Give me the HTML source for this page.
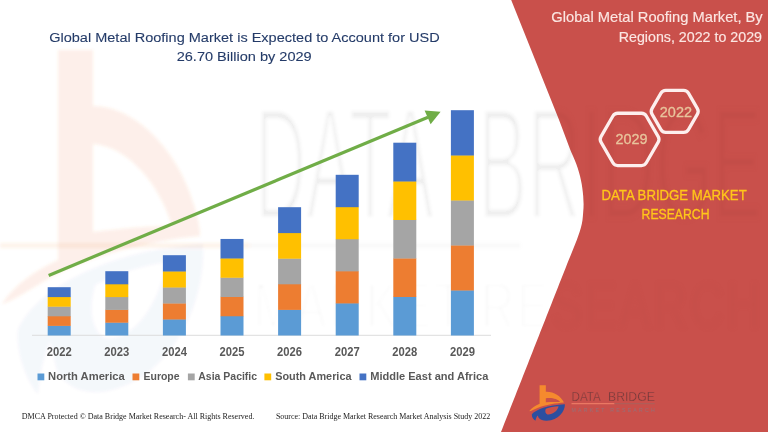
<!DOCTYPE html>
<html><head><meta charset="utf-8">
<style>
html,body{margin:0;padding:0;background:#fff;}
body{width:768px;height:432px;overflow:hidden;font-family:"Liberation Sans",sans-serif;}
svg{display:block}
text{font-family:"Liberation Sans",sans-serif;}
.serif{font-family:"Liberation Serif",serif;}
</style></head><body>
<svg width="768" height="432" viewBox="0 0 768 432">
<defs>
<filter id="blur1"><feGaussianBlur stdDeviation="1.6"/></filter>
</defs>
<rect width="768" height="432" fill="#ffffff"/>

<!-- faint watermarks -->
<g id="wm" filter="url(#blur1)">
<g opacity="0.065">
<text x="255" y="219" font-size="160" fill="#000" stroke="#fff" stroke-width="4" textLength="179" lengthAdjust="spacingAndGlyphs">DATA</text>
<text x="478" y="219" font-size="160" fill="#000" stroke="#fff" stroke-width="4" textLength="284" lengthAdjust="spacingAndGlyphs">BRIDGE</text>
<text transform="translate(0,328) scale(1,1.4)" x="254" y="0" font-size="46" fill="#000" stroke="#fff" stroke-width="3" textLength="506" lengthAdjust="spacing">MARKET RESEARCH</text>
</g>
<rect x="0" y="243" width="250" height="5" fill="#F08A30" opacity="0.10"/>
<rect x="250" y="243" width="270" height="5" fill="#999" opacity="0.06"/>
<g>
<path d="M58,50 H93 V106 C135,106 178,150 194,205 C198,218 200,228 200,236 C150,240 90,256 50,278 C30,289 15,300 2,304 C14,285 36,270 58,260 Z M93,144 V232 C125,228 150,226 172,226 C160,185 128,146 93,144 Z" fill="#F0703A" opacity="0.105" fill-rule="evenodd"/>
<path d="M203,244 C206,310 165,385 100,392 C80,393 66,386 58,372 C54,364 54,352 50,342 C44,352 40,374 38,394 C26,380 16,352 18,330 C36,288 110,250 203,244 Z M95,285 C88,310 92,330 104,338 C130,344 160,306 166,262 C140,266 115,274 95,285 Z" fill="#2B4FA0" opacity="0.045" fill-rule="evenodd"/>
</g>
</g>

<!-- axis -->
<rect x="32" y="334.8" width="459" height="1" fill="#DCDCDC"/>

<!-- bars -->
<rect x="47.70" y="325.60" width="23" height="9.90" fill="#5B9BD5"/>
<rect x="47.70" y="316.00" width="23" height="9.90" fill="#ED7D31"/>
<rect x="47.70" y="306.40" width="23" height="9.90" fill="#A5A5A5"/>
<rect x="47.70" y="296.80" width="23" height="9.90" fill="#FFC000"/>
<rect x="47.70" y="287.20" width="23" height="9.90" fill="#4472C4"/>
<rect x="105.30" y="322.40" width="23" height="13.10" fill="#5B9BD5"/>
<rect x="105.30" y="309.60" width="23" height="13.10" fill="#ED7D31"/>
<rect x="105.30" y="296.80" width="23" height="13.10" fill="#A5A5A5"/>
<rect x="105.30" y="284.00" width="23" height="13.10" fill="#FFC000"/>
<rect x="105.30" y="271.20" width="23" height="13.10" fill="#4472C4"/>
<rect x="162.90" y="319.20" width="23" height="16.30" fill="#5B9BD5"/>
<rect x="162.90" y="303.20" width="23" height="16.30" fill="#ED7D31"/>
<rect x="162.90" y="287.20" width="23" height="16.30" fill="#A5A5A5"/>
<rect x="162.90" y="271.20" width="23" height="16.30" fill="#FFC000"/>
<rect x="162.90" y="255.20" width="23" height="16.30" fill="#4472C4"/>
<rect x="220.50" y="315.95" width="23" height="19.55" fill="#5B9BD5"/>
<rect x="220.50" y="296.70" width="23" height="19.55" fill="#ED7D31"/>
<rect x="220.50" y="277.45" width="23" height="19.55" fill="#A5A5A5"/>
<rect x="220.50" y="258.20" width="23" height="19.55" fill="#FFC000"/>
<rect x="220.50" y="238.95" width="23" height="19.55" fill="#4472C4"/>
<rect x="278.10" y="309.60" width="23" height="25.90" fill="#5B9BD5"/>
<rect x="278.10" y="284.00" width="23" height="25.90" fill="#ED7D31"/>
<rect x="278.10" y="258.40" width="23" height="25.90" fill="#A5A5A5"/>
<rect x="278.10" y="232.80" width="23" height="25.90" fill="#FFC000"/>
<rect x="278.10" y="207.20" width="23" height="25.90" fill="#4472C4"/>
<rect x="335.70" y="303.12" width="23" height="32.38" fill="#5B9BD5"/>
<rect x="335.70" y="271.04" width="23" height="32.38" fill="#ED7D31"/>
<rect x="335.70" y="238.96" width="23" height="32.38" fill="#A5A5A5"/>
<rect x="335.70" y="206.88" width="23" height="32.38" fill="#FFC000"/>
<rect x="335.70" y="174.80" width="23" height="32.38" fill="#4472C4"/>
<rect x="393.30" y="296.70" width="23" height="38.80" fill="#5B9BD5"/>
<rect x="393.30" y="258.20" width="23" height="38.80" fill="#ED7D31"/>
<rect x="393.30" y="219.70" width="23" height="38.80" fill="#A5A5A5"/>
<rect x="393.30" y="181.20" width="23" height="38.80" fill="#FFC000"/>
<rect x="393.30" y="142.70" width="23" height="38.80" fill="#4472C4"/>
<rect x="450.90" y="290.20" width="23" height="45.30" fill="#5B9BD5"/>
<rect x="450.90" y="245.20" width="23" height="45.30" fill="#ED7D31"/>
<rect x="450.90" y="200.20" width="23" height="45.30" fill="#A5A5A5"/>
<rect x="450.90" y="155.20" width="23" height="45.30" fill="#FFC000"/>
<rect x="450.90" y="110.20" width="23" height="45.30" fill="#4472C4"/>

<!-- arrow -->
<line x1="48.7" y1="275.4" x2="428" y2="117.3" stroke="#70AD47" stroke-width="3.2"/>
<path d="M440.6,111.8 L424.6,110.6 L430.6,124.2 Z" fill="#70AD47"/>

<!-- year labels -->
<g font-size="12.2" font-weight="bold" fill="#595959">
<text x="59.2" y="356.3" text-anchor="middle" textLength="25" lengthAdjust="spacingAndGlyphs">2022</text>
<text x="116.8" y="356.3" text-anchor="middle" textLength="25" lengthAdjust="spacingAndGlyphs">2023</text>
<text x="174.4" y="356.3" text-anchor="middle" textLength="25" lengthAdjust="spacingAndGlyphs">2024</text>
<text x="232.0" y="356.3" text-anchor="middle" textLength="25" lengthAdjust="spacingAndGlyphs">2025</text>
<text x="289.6" y="356.3" text-anchor="middle" textLength="25" lengthAdjust="spacingAndGlyphs">2026</text>
<text x="347.2" y="356.3" text-anchor="middle" textLength="25" lengthAdjust="spacingAndGlyphs">2027</text>
<text x="404.8" y="356.3" text-anchor="middle" textLength="25" lengthAdjust="spacingAndGlyphs">2028</text>
<text x="462.4" y="356.3" text-anchor="middle" textLength="25" lengthAdjust="spacingAndGlyphs">2029</text>
</g>

<!-- legend -->
<g font-size="11.2" font-weight="bold" fill="#595959">
<rect x="37.5" y="373.5" width="6.8" height="6.8" fill="#5B9BD5"/><text x="48.1" y="380.3" textLength="76.7" lengthAdjust="spacingAndGlyphs">North America</text>
<rect x="132.5" y="373.5" width="6.8" height="6.8" fill="#ED7D31"/><text x="143.5" y="380.3" textLength="36.1" lengthAdjust="spacingAndGlyphs">Europe</text>
<rect x="187.9" y="373.5" width="6.8" height="6.8" fill="#A5A5A5"/><text x="198.3" y="380.3" textLength="58.8" lengthAdjust="spacingAndGlyphs">Asia Pacific</text>
<rect x="264.4" y="373.5" width="6.8" height="6.8" fill="#FFC000"/><text x="275.2" y="380.3" textLength="76.3" lengthAdjust="spacingAndGlyphs">South America</text>
<rect x="359.5" y="373.5" width="6.8" height="6.8" fill="#4472C4"/><text x="370.2" y="380.3" textLength="118.1" lengthAdjust="spacingAndGlyphs">Middle East and Africa</text>
</g>

<!-- title -->
<g font-size="13.7" fill="#243B68" stroke="#243B68" stroke-width="0.1">
<text x="49.2" y="42.2" textLength="390.5" lengthAdjust="spacingAndGlyphs">Global Metal Roofing Market is Expected to Account for USD</text>
<text x="176.7" y="61.2" textLength="135" lengthAdjust="spacingAndGlyphs">26.70 Billion by 2029</text>
</g>

<!-- footer -->
<g class="serif" font-size="8.3" fill="#1a1a1a">
<text class="serif" x="21.8" y="419" textLength="232.6" lengthAdjust="spacingAndGlyphs">DMCA Protected © Data Bridge Market Research- All Rights Reserved.</text>
<text class="serif" x="275.9" y="419" textLength="214.3" lengthAdjust="spacingAndGlyphs">Source: Data Bridge Market Research Market Analysis Study 2022</text>
</g>

<!-- red panel -->
<path d="M511.2,0 L512.8,4 L514.4,8 L516.0,12 L517.6,16 L519.2,20 L520.8,24 L522.4,28 L524.0,32 L525.6,36 L527.2,40 L528.8,44 L530.4,48 L532.0,52 L533.6,56 L535.2,60 L536.8,64 L538.4,68 L539.9,72 L541.5,76 L543.1,80 L544.7,84 L546.3,88 L547.9,92 L549.5,96 L551.1,100 L552.7,104 L554.3,108 L555.9,112 L557.5,116 L559.1,120 L560.6,124 L562.1,128 L563.6,132 L565.1,136 L566.6,140 L568.1,144 L569.6,148 L571.2,152 L573.0,156 L574.7,160 L576.3,164 L577.7,168 L578.9,172 L580.0,176 L580.9,180 L581.7,184 L582.3,188 L582.8,192 L583.2,196 L583.4,200 L583.6,204 L583.5,208 L583.2,212 L582.9,216 L582.5,220 L581.8,224 L580.8,228 L579.6,232 L578.2,236 L576.8,240 L575.2,244 L573.6,248 L572.0,252 L570.4,256 L568.7,260 L567.1,264 L565.6,268 L564.0,272 L562.4,276 L560.8,280 L559.2,284 L557.7,288 L556.1,292 L554.5,296 L552.9,300 L551.4,304 L549.8,308 L548.2,312 L546.6,316 L545.1,320 L543.5,324 L541.9,328 L540.3,332 L538.8,336 L537.2,340 L535.6,344 L534.0,348 L532.5,352 L530.9,356 L529.3,360 L527.8,364 L526.2,368 L524.6,372 L523.0,376 L521.5,380 L519.9,384 L518.3,388 L516.7,392 L515.2,396 L513.6,400 L512.0,404 L510.4,408 L508.9,412 L507.3,416 L505.7,420 L504.1,424 L502.6,428 L501.0,432 L768,432 L768,0 Z" fill="#C9504B"/>

<!-- watermark on red -->
<clipPath id="redclip"><path d="M511.2,0 L512.8,4 L514.4,8 L516.0,12 L517.6,16 L519.2,20 L520.8,24 L522.4,28 L524.0,32 L525.6,36 L527.2,40 L528.8,44 L530.4,48 L532.0,52 L533.6,56 L535.2,60 L536.8,64 L538.4,68 L539.9,72 L541.5,76 L543.1,80 L544.7,84 L546.3,88 L547.9,92 L549.5,96 L551.1,100 L552.7,104 L554.3,108 L555.9,112 L557.5,116 L559.1,120 L560.6,124 L562.1,128 L563.6,132 L565.1,136 L566.6,140 L568.1,144 L569.6,148 L571.2,152 L573.0,156 L574.7,160 L576.3,164 L577.7,168 L578.9,172 L580.0,176 L580.9,180 L581.7,184 L582.3,188 L582.8,192 L583.2,196 L583.4,200 L583.6,204 L583.5,208 L583.2,212 L582.9,216 L582.5,220 L581.8,224 L580.8,228 L579.6,232 L578.2,236 L576.8,240 L575.2,244 L573.6,248 L572.0,252 L570.4,256 L568.7,260 L567.1,264 L565.6,268 L564.0,272 L562.4,276 L560.8,280 L559.2,284 L557.7,288 L556.1,292 L554.5,296 L552.9,300 L551.4,304 L549.8,308 L548.2,312 L546.6,316 L545.1,320 L543.5,324 L541.9,328 L540.3,332 L538.8,336 L537.2,340 L535.6,344 L534.0,348 L532.5,352 L530.9,356 L529.3,360 L527.8,364 L526.2,368 L524.6,372 L523.0,376 L521.5,380 L519.9,384 L518.3,388 L516.7,392 L515.2,396 L513.6,400 L512.0,404 L510.4,408 L508.9,412 L507.3,416 L505.7,420 L504.1,424 L502.6,428 L501.0,432 L768,432 L768,0 Z"/></clipPath>
<g clip-path="url(#redclip)">
<g filter="url(#blur1)" opacity="0.035">
<text x="478" y="219" font-size="160" fill="#300" stroke="#C9504B" stroke-width="5" textLength="284" lengthAdjust="spacingAndGlyphs">BRIDGE</text>
<text transform="translate(0,328) scale(1,1.4)" x="254" y="0" font-size="46" fill="#300" stroke="#C9504B" stroke-width="3" textLength="506" lengthAdjust="spacing">MARKET RESEARCH</text>
</g>
</g>

<!-- right title -->
<g font-size="14.2" fill="#FBE6E2" stroke="#FBE6E2" stroke-width="0.15">
<text x="551.3" y="22.3" textLength="211.4" lengthAdjust="spacingAndGlyphs">Global Metal Roofing Market, By</text>
<text x="618.7" y="41.6" textLength="143.3" lengthAdjust="spacingAndGlyphs">Regions, 2022 to 2029</text>
</g>

<!-- hexagons -->
<path d="M658.20,136.63 Q659.80,139.40 658.20,142.17 L646.30,162.78 Q644.70,165.55 641.50,165.55 L617.70,165.55 Q614.50,165.55 612.90,162.78 L601.00,142.17 Q599.40,139.40 601.00,136.63 L612.90,116.02 Q614.50,113.25 617.70,113.25 L641.50,113.25 Q644.70,113.25 646.30,116.02 Z" fill="none" stroke="#FDEFEE" stroke-width="3.3" stroke-linejoin="round"/>
<path d="M697.40,108.63 Q699.00,111.40 697.40,114.17 L688.45,129.67 Q686.85,132.44 683.65,132.44 L665.75,132.44 Q662.55,132.44 660.95,129.67 L652.00,114.17 Q650.40,111.40 652.00,108.63 L660.95,93.13 Q662.55,90.36 665.75,90.36 L683.65,90.36 Q686.85,90.36 688.45,93.13 Z" fill="none" stroke="#FDEFEE" stroke-width="3.3" stroke-linejoin="round"/>
<g font-size="14" fill="#E8C49C" stroke="#E8C49C" stroke-width="0.3">
<text x="615.4" y="144.3" textLength="32" lengthAdjust="spacingAndGlyphs">2029</text>
<text x="659.8" y="117" textLength="32.2" lengthAdjust="spacingAndGlyphs">2022</text>
</g>

<!-- DBMR text -->
<g font-size="13.8" fill="#FFC61A" stroke="#FFC61A" stroke-width="0.3">
<text x="601.5" y="200" textLength="145.2" lengthAdjust="spacingAndGlyphs">DATA BRIDGE MARKET</text>
<text x="641.6" y="219.3" textLength="67.9" lengthAdjust="spacingAndGlyphs">RESEARCH</text>
</g>

<!-- logo -->
<g id="logo" transform="translate(525,380) scale(0.104167)">
<path d="M140,50 H200 V112 C270,108 345,150 374,216 C300,222 200,236 120,268 C90,280 60,298 40,300 C60,272 100,245 140,228 Z M200,176 V214 C250,210 300,210 338,212 C315,182 255,166 200,176 Z" fill="#F58A2E" fill-rule="evenodd"/>
<path d="M383,232 C385,300 320,385 210,390 C175,391 150,384 135,368 C128,360 128,350 122,340 C112,350 104,372 100,392 C80,378 62,352 66,328 C100,285 220,238 383,232 Z M200,276 C190,300 195,322 215,330 C260,336 312,300 322,252 C280,254 235,262 200,276 Z" fill="#2B4FA0" fill-rule="evenodd"/>
</g>
<g font-size="12.8" fill="#4A3034" fill-opacity="0.8" stroke="#C9504B" stroke-width="0.45">
<text x="571.5" y="400.6" textLength="29.3" lengthAdjust="spacingAndGlyphs">DATA</text>
<text x="608" y="400.6" textLength="46.8" lengthAdjust="spacingAndGlyphs">BRIDGE</text>
</g>
<rect x="571.5" y="403.2" width="43" height="1" fill="#F2836A"/>
<rect x="614.5" y="403.2" width="40.3" height="1" fill="#A8615C"/>
<text x="571.5" y="411.5" font-size="5.2" fill="#957078" textLength="83.3" lengthAdjust="spacing">MARKET RESEARCH</text>
</svg>
</body></html>
